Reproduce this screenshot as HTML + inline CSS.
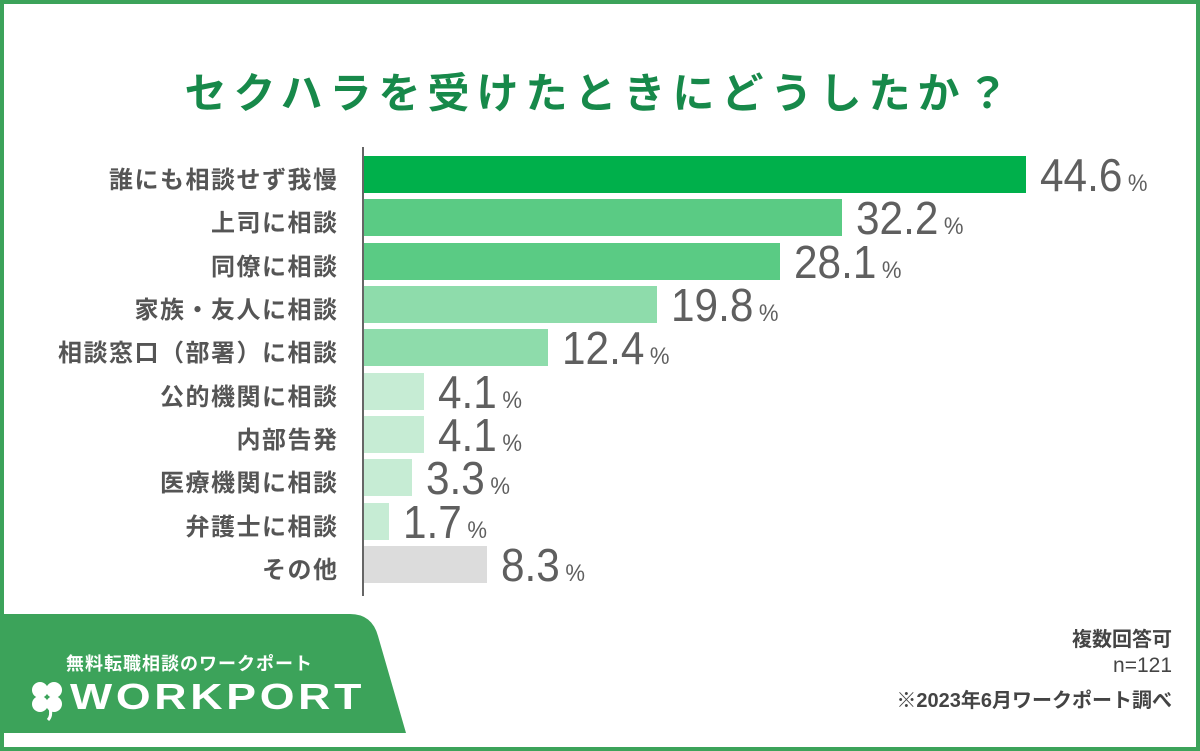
<!DOCTYPE html>
<html><head><meta charset="utf-8"><style>
body{margin:0;width:1200px;height:751px;overflow:hidden;background:#fff;font-family:"Liberation Sans","Noto Sans CJK JP",sans-serif;}
.frame{position:absolute;left:0;top:0;width:1192px;height:743px;border:4px solid #3ca35a;}
.title{position:absolute;left:0;width:1200px;top:60px;text-align:center;font-size:42px;font-weight:bold;color:#17894a;letter-spacing:7px;}
.lab{position:absolute;right:863px;font-size:24px;font-weight:bold;color:#555;white-space:nowrap;letter-spacing:1.5px;margin-right:-1.5px;}
.bar{position:absolute;left:364px;height:37px;}
.val{position:absolute;font-size:46px;color:#5f5f5f;white-space:nowrap;transform:scaleX(0.92);transform-origin:left;}
.val small{font-size:24px;margin-left:6px;}
.axis{position:absolute;left:362px;top:147px;width:2px;height:449px;background:#666;}
.note{position:absolute;right:28px;text-align:right;font-size:20px;color:#444;font-weight:bold;}
</style></head><body>
<div class="frame"></div>
<div class="title">セクハラを受けたときにどうしたか？</div>
<div class="axis"></div>
<svg style="position:absolute;left:0;top:0" width="1200" height="751">
<path d="M0 614 L350 614 Q372 614 378 636 L406 733 L0 733 Z" fill="#3ca35a"/>
<g fill="#fff"><circle cx="40" cy="690" r="8"/><circle cx="54" cy="690" r="8"/><circle cx="40" cy="704" r="8"/><circle cx="54" cy="704" r="8"/></g>
<path d="M50 708 Q52 716 48 720" stroke="#fff" stroke-width="3" fill="none"/>
</svg>
<div style="position:absolute;left:66px;top:650px;font-size:18px;font-weight:bold;color:#fff;letter-spacing:1px">無料転職相談のワークポート</div>
<div style="position:absolute;left:70px;top:676px;font-size:36px;font-weight:bold;color:#fff;letter-spacing:3px;transform:scaleX(1.24);transform-origin:left">WORKPORT</div>
<div class="note" style="top:623px">複数回答可</div>
<div class="note" style="top:654px;font-weight:normal;font-size:21px">n=121</div>
<div class="note" style="top:684px">※2023年6月ワークポート調べ</div>

<div class="lab" style="top:160px">誰にも相談せず我慢</div>
<div class="bar" style="top:156px;width:662px;background:#00b04b"></div>
<div class="val" style="left:1040px;top:148px">44.6<small>%</small></div>

<div class="lab" style="top:203px">上司に相談</div>
<div class="bar" style="top:199px;width:478px;background:#5acb84"></div>
<div class="val" style="left:856px;top:191px">32.2<small>%</small></div>

<div class="lab" style="top:247px">同僚に相談</div>
<div class="bar" style="top:243px;width:416px;background:#5acb84"></div>
<div class="val" style="left:794px;top:235px">28.1<small>%</small></div>

<div class="lab" style="top:290px">家族・友人に相談</div>
<div class="bar" style="top:286px;width:293px;background:#8edcab"></div>
<div class="val" style="left:671px;top:278px">19.8<small>%</small></div>

<div class="lab" style="top:333px">相談窓口（部署）に相談</div>
<div class="bar" style="top:329px;width:184px;background:#8edcab"></div>
<div class="val" style="left:562px;top:321px">12.4<small>%</small></div>

<div class="lab" style="top:377px">公的機関に相談</div>
<div class="bar" style="top:373px;width:60px;background:#c6ecd4"></div>
<div class="val" style="left:438px;top:365px">4.1<small>%</small></div>

<div class="lab" style="top:420px">内部告発</div>
<div class="bar" style="top:416px;width:60px;background:#c6ecd4"></div>
<div class="val" style="left:438px;top:408px">4.1<small>%</small></div>

<div class="lab" style="top:463px">医療機関に相談</div>
<div class="bar" style="top:459px;width:48px;background:#c6ecd4"></div>
<div class="val" style="left:426px;top:451px">3.3<small>%</small></div>

<div class="lab" style="top:507px">弁護士に相談</div>
<div class="bar" style="top:503px;width:25px;background:#c6ecd4"></div>
<div class="val" style="left:403px;top:495px">1.7<small>%</small></div>

<div class="lab" style="top:550px">その他</div>
<div class="bar" style="top:546px;width:123px;background:#dcdcdc"></div>
<div class="val" style="left:501px;top:538px">8.3<small>%</small></div>
</body></html>
